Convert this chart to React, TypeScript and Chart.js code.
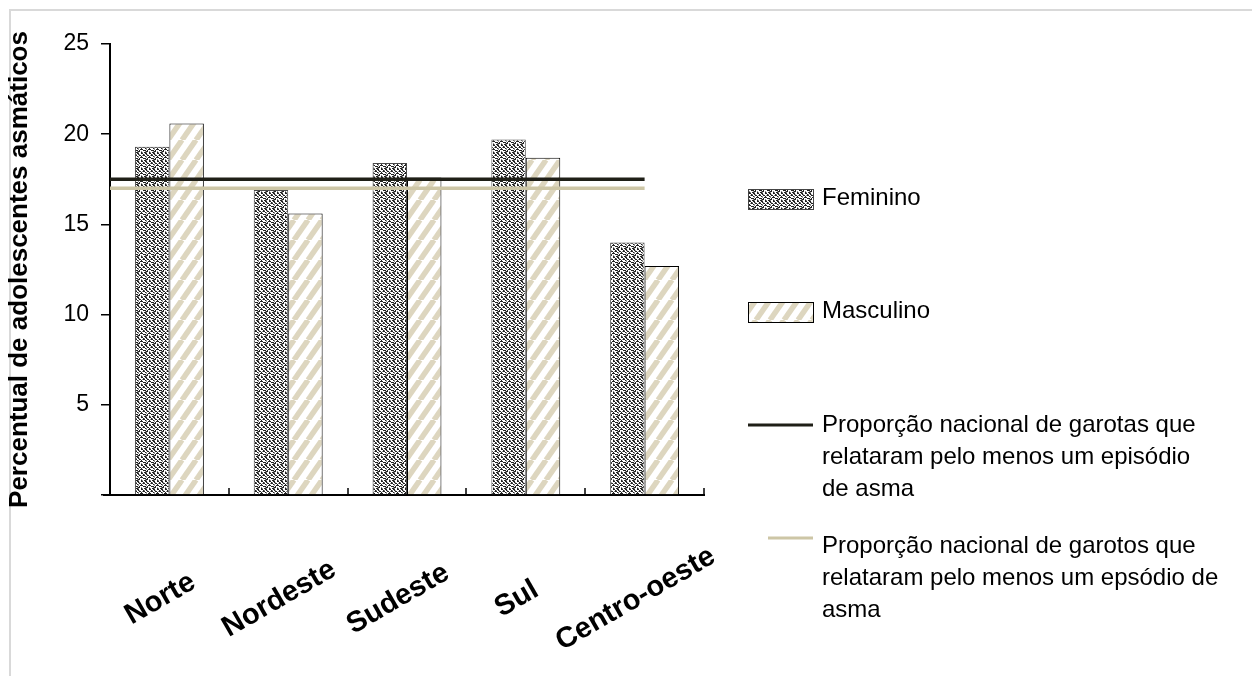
import { useEffect, useRef } from 'react';
import { Chart, registerables } from 'chart.js';

Chart.register(...registerables);

const categories = ['Norte', 'Nordeste', 'Sudeste', 'Sul', 'Centro-oeste'];
const feminino = [19.3, 16.9, 18.4, 19.7, 14.0];
const masculino = [20.6, 15.6, 17.6, 18.7, 12.7];
const nationalGirls = 17.5;
const nationalBoys = 17.0;
// span of the national reference lines, in category-index units
// (-0.5 = left edge of the plot, 4 = centre of the last category)
const nationalLineSpan = [-0.5, 4];
const yMin = 0;
const yMax = 25;
const yStep = 5;
const seriesLabels = ['Feminino', 'Masculino'];
const lineLegendLines = [
  ['Proporção nacional de garotas que', 'relataram pelo menos um episódio', 'de asma'],
  ['Proporção nacional de garotos que', 'relataram pelo menos um epsódio de', 'asma'],
];
const yTitle = 'Percentual de adolescentes asmáticos';

const FONT = "'Liberation Sans', Arial, sans-serif";
const GIRL_LINE = '#1f1f17';
const BOY_LINE = '#cdc6a6';

const femTile = [
  '##+..#+.',
  '.##..##.',
  '+.#+...#',
  '#..##.+#',
  '.#+..#..',
  '..+.###.',
  '##.#...#',
  '.+##.+..',
];

function makeFemPattern(ctx: CanvasRenderingContext2D) {
  const c = document.createElement('canvas');
  c.width = 8;
  c.height = 8;
  const g = c.getContext('2d')!;
  g.fillStyle = '#ffffff';
  g.fillRect(0, 0, 8, 8);
  femTile.forEach((row, y) => {
    for (let x = 0; x < row.length; x++) {
      if (row[x] === '#') {
        g.fillStyle = '#222222';
        g.fillRect(x, y, 1, 1);
      } else if (row[x] === '+') {
        g.fillStyle = '#8c8c8c';
        g.fillRect(x, y, 1, 1);
      }
    }
  });
  return ctx.createPattern(c, 'repeat')!;
}

function makeMascPattern(ctx: CanvasRenderingContext2D) {
  const w = 14;
  const h = 20;
  const c = document.createElement('canvas');
  c.width = w;
  c.height = h;
  const g = c.getContext('2d')!;
  g.fillStyle = '#ffffff';
  g.fillRect(0, 0, w, h);
  g.strokeStyle = '#ddd6bf';
  g.lineWidth = 5.5;
  for (let k = -1; k <= 1; k++) {
    g.beginPath();
    g.moveTo(k * w, h);
    g.lineTo(k * w + w, 0);
    g.stroke();
  }
  return ctx.createPattern(c, 'repeat')!;
}

export default function App() {
  const ref = useRef<HTMLCanvasElement | null>(null);

  useEffect(() => {
    const canvas = ref.current!;
    const ctx = canvas.getContext('2d')!;
    const femPattern = makeFemPattern(ctx);
    const mascPattern = makeMascPattern(ctx);

    const decor = {
      id: 'decor',
      beforeDraw(chart: any) {
        const c = chart.ctx;
        c.save();
        c.strokeStyle = '#d9d9d9';
        c.lineWidth = 2;
        c.beginPath();
        c.moveTo(10, 700);
        c.lineTo(10, 10);
        c.lineTo(1300, 10);
        c.stroke();
        c.restore();
      },
      afterDatasetsDraw(chart: any) {
        // national reference lines, mapped through the chart's scales
        const c = chart.ctx;
        const xs = chart.scales.x;
        const ys = chart.scales.y;
        const x0 = xs.getPixelForValue(nationalLineSpan[0]);
        const x1 = xs.getPixelForValue(nationalLineSpan[1]);
        c.save();
        c.lineWidth = 3.5;
        [
          [nationalGirls, GIRL_LINE],
          [nationalBoys, BOY_LINE],
        ].forEach(([v, col]) => {
          const py = ys.getPixelForValue(v as number);
          c.strokeStyle = col as string;
          c.beginPath();
          c.moveTo(x0, py);
          c.lineTo(x1, py);
          c.stroke();
        });
        c.restore();
      },
      afterDraw(chart: any) {
        const c = chart.ctx;
        const area = chart.chartArea;
        const xs = chart.scales.x;
        c.save();
        // inward category boundary ticks on x axis
        c.strokeStyle = '#000';
        c.lineWidth = 1.5;
        const n = categories.length;
        for (let i = 0; i <= n; i++) {
          const px = Math.round(xs.getPixelForValue(i - 0.5));
          c.beginPath();
          c.moveTo(px, area.bottom);
          c.lineTo(px, area.bottom - 7);
          c.stroke();
        }
        // x axis extension to the left
        c.lineWidth = 2;
        c.beginPath();
        c.moveTo(area.left - 7, area.bottom);
        c.lineTo(area.left, area.bottom);
        c.stroke();
        // rotated category labels
        c.fillStyle = '#000';
        c.font = `bold 29px ${FONT}`;
        c.textAlign = 'center';
        c.textBaseline = 'middle';
        categories.forEach((lab, i) => {
          const px = xs.getPixelForValue(i);
          c.save();
          c.translate(px - 9, area.bottom + 104);
          c.rotate((-30 * Math.PI) / 180);
          c.fillText(lab, 0, 0);
          c.restore();
        });
        // legend
        const bx = 748;
        const bw = 65;
        const tx = 822;
        c.font = `24px ${FONT}`;
        c.textAlign = 'left';
        c.textBaseline = 'middle';
        c.fillStyle = femPattern;
        c.fillRect(bx, 189, bw, 20);
        c.strokeStyle = '#444';
        c.lineWidth = 1;
        c.strokeRect(bx + 0.5, 189.5, bw, 20);
        c.fillStyle = '#000';
        c.fillText(seriesLabels[0], tx, 198);
        c.fillStyle = mascPattern;
        c.fillRect(bx, 302, bw, 20);
        c.strokeStyle = '#000';
        c.strokeRect(bx + 0.5, 302.5, bw, 20);
        c.fillStyle = '#000';
        c.fillText(seriesLabels[1], tx, 311);
        c.lineWidth = 3;
        c.strokeStyle = GIRL_LINE;
        c.beginPath();
        c.moveTo(bx, 425);
        c.lineTo(bx + bw, 425);
        c.stroke();
        lineLegendLines[0].forEach((t, i) => c.fillText(t, tx, 425 + i * 32));
        c.strokeStyle = BOY_LINE;
        c.beginPath();
        c.moveTo(bx + 20, 538);
        c.lineTo(bx + bw, 538);
        c.stroke();
        lineLegendLines[1].forEach((t, i) => c.fillText(t, tx, 546 + i * 32));
        c.restore();
      },
    };

    const chart = new Chart(ctx, {
      type: 'bar',
      data: {
        labels: categories,
        datasets: [
          {
            label: seriesLabels[0],
            data: feminino,
            backgroundColor: femPattern as any,
            borderColor: '#4a4a4a',
            borderWidth: 1,
          },
          {
            label: seriesLabels[1],
            data: masculino,
            backgroundColor: mascPattern as any,
            borderColor: '#000',
            borderWidth: 1,
          },
        ],
      },
      options: {
        responsive: false,
        animation: false,
        devicePixelRatio: 1,
        layout: { padding: { top: 44, right: 548, bottom: 0, left: 0 } },
        datasets: {
          bar: { categoryPercentage: 0.58, barPercentage: 1.0 },
        },
        plugins: {
          legend: { display: false },
          tooltip: { enabled: false },
        },
        scales: {
          x: {
            type: 'category',
            grid: { display: false },
            border: { display: true, color: '#000', width: 2 },
            ticks: { display: false },
            afterFit: (s: any) => {
              s.height = 181;
            },
          },
          y: {
            min: yMin,
            max: yMax,
            grid: {
              display: true,
              drawOnChartArea: false,
              drawTicks: true,
              tickLength: 9,
              color: '#000',
              lineWidth: 1.5,
            },
            border: { display: true, color: '#000', width: 2 },
            ticks: {
              stepSize: yStep,
              padding: 12,
              color: '#000',
              font: { family: FONT, size: 23 },
              callback: (v: any) => (Number(v) === 0 ? '' : String(v)),
            },
            title: {
              display: true,
              text: yTitle,
              color: '#000',
              font: { family: FONT, size: 26, weight: 'bold' },
              padding: { top: 4, bottom: 0 },
            },
            afterFit: (s: any) => {
              s.width = 110;
            },
          },
        },
      },
      plugins: [decor],
    } as any);

    return () => chart.destroy();
  }, []);

  return (
    <div style={{ position: 'absolute', left: 0, top: 0, width: 1252, height: 676 }}>
      <canvas ref={ref} width={1252} height={676} style={{ display: 'block' }} />
    </div>
  );
}
